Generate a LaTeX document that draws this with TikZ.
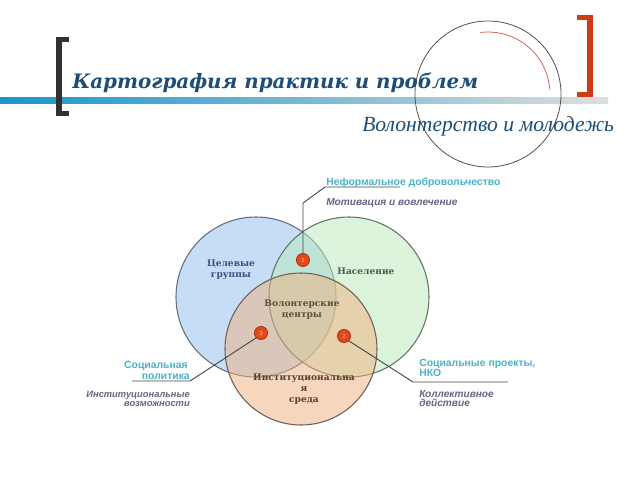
\documentclass[tikz,border=0pt]{standalone}
\usepackage{fontspec}
\setmainfont{DejaVu Serif}
\newfontfamily\subfont{Liberation Serif}
\newfontfamily\lsans{Liberation Sans}
\usetikzlibrary{calc}
\definecolor{titleblue}{RGB}{28,78,120}
\definecolor{barblue}{RGB}{25,150,210}
\definecolor{barmid}{RGB}{120,185,210}
\definecolor{bargray}{RGB}{222,222,222}
\definecolor{brkgray}{RGB}{50,50,50}
\definecolor{brkred}{RGB}{205,60,20}
\definecolor{arcred}{RGB}{210,100,90}
\definecolor{cblue}{RGB}{197,222,245}
\definecolor{cgreen}{RGB}{187,235,187}
\definecolor{corange}{RGB}{239,177,127}
\definecolor{eblue}{RGB}{100,110,125}
\definecolor{egreen}{RGB}{100,115,100}
\definecolor{eorange}{RGB}{115,95,85}
\definecolor{tealtxt}{RGB}{75,178,200}
\definecolor{grayv}{RGB}{100,100,135}
\definecolor{dotred}{RGB}{228,72,30}
\definecolor{dotedge}{RGB}{165,45,15}
\definecolor{dotnum}{RGB}{250,200,170}
\definecolor{lblblue}{RGB}{60,78,122}
\definecolor{lblgreen}{RGB}{75,90,75}
\definecolor{lblmid}{RGB}{95,80,65}
\definecolor{lblor}{RGB}{80,62,50}
\definecolor{callgray}{RGB}{70,70,70}
\tikzset{
  venn/.style={circle,inner sep=0pt,outer sep=0pt,line width=0.8pt},
  vlabel/.style={font=\fontsize{6.8}{8.2}\selectfont\bfseries,align=center,inner sep=0pt},
  reddot/.style={circle,inner sep=0pt,minimum size=9.8pt,fill=dotred,draw=dotedge,line width=0.6pt,
     font=\fontsize{4.5}{5}\selectfont\lsans,text=dotnum},
  callout/.style={draw=callgray,line width=0.7pt},
  tealtext/.style={font=\fontsize{7.8}{8.4}\selectfont\lsans\bfseries,text=tealtxt,inner sep=0pt},
  graytext/.style={font=\fontsize{7.6}{7.8}\selectfont\lsans\bfseries\itshape,text=grayv,inner sep=0pt}
}
\begin{document}
\begin{tikzpicture}[x=0.75pt,y=-0.75pt]
\useasboundingbox (0,0) rectangle (640,480);
\fill[white] (0,0) rectangle (640,480);
% header
\shade[left color=barblue,right color=bargray,middle color=barmid] (0,97) rectangle (608,103);
\fill[brkgray] (56,37) rectangle (62,116);
\fill[brkgray] (56,37) rectangle (69,42);
\fill[brkgray] (56,111) rectangle (69,116);
\fill[brkred] (587,15) rectangle (593,97);
\fill[brkred] (577,15) rectangle (593,20);
\fill[brkred] (577,92) rectangle (593,97);
\node[circle,draw=brkgray!85,line width=0.6pt,minimum size=109.5pt,inner sep=0pt] (ring) at (488,94) {};
\draw[arcred,line width=0.6pt] ($(ring.center)+(-97:62)$) arc[start angle=-97,end angle=-4,radius=62];
\node[anchor=base west,inner sep=0pt,text=titleblue,font=\fontsize{14.9}{18}\selectfont\bfseries\itshape] (title) at (72,88) {Картография практик и проблем};
\node[anchor=base west,inner sep=0pt,text=titleblue,font=\fontsize{16.2}{20}\selectfont\subfont\itshape] (subtitle) at (362,131) {Волонтерство и молодежь};
% venn
\node[venn,minimum size=120pt,fill=cblue,draw=eblue] (cb) at (256,297) {};
\node[venn,minimum size=120pt,fill=cgreen,fill opacity=0.5,draw=egreen,draw opacity=1] (cg) at (349,297) {};
\node[venn,minimum size=114pt,fill=corange,fill opacity=0.5,draw=eorange,draw opacity=1] (co) at (301,349) {};
\node[vlabel,text=lblblue] (lb) at (231,270) {Целевые\\группы};
\node[vlabel,text=lblgreen] (lg) at (366,271) {Население};
\node[vlabel,text=lblmid] (lm) at (302,310) {Волонтерские\\центры};
\node[vlabel,text=lblor] (lo) at (304,389) {Институциональна\\я\\среда};
% dots
\node[reddot] (d1) at (303,260) {1};
\node[reddot] (d3) at (261,333) {3};
\node[reddot] (d2) at (344,336) {2};
% callouts
\coordinate (k1) at (303,203);
\coordinate (k2) at (325,187);
\coordinate (k3) at (400,187);
\draw[callout] (d1.north) -- (k1) -- (k2) -- (k3);
\coordinate (l1) at (190,381);
\coordinate (l2) at (132,381);
\draw[callout] (d3.south west) -- (l1) -- (l2);
\coordinate (r1) at (413,382);
\coordinate (r2) at (508,382);
\draw[callout] (d2.south east) -- (r1) -- (r2);
% callout texts
\node[tealtext,anchor=base west] (t1) at (326,185) {Неформальное добровольчество};
\node[graytext,anchor=base west] (g1) at (326,205) {Мотивация и вовлечение};
\node[tealtext,anchor=base east] (t3a) at (188,368) {Социальная};
\node[tealtext,anchor=base east] (t3b) at (190,379) {политика};
\node[graytext,anchor=base east,font=\fontsize{7}{7.8}\selectfont\lsans\bfseries\itshape] (g3a) at (190,397) {Институциональные};
\node[graytext,anchor=base east,font=\fontsize{7}{7.8}\selectfont\lsans\bfseries\itshape] (g3b) at (190,406) {возможности};
\node[tealtext,anchor=base west] (t2a) at (419,366) {Социальные проекты,};
\node[tealtext,anchor=base west] (t2b) at (419,376) {НКО};
\node[graytext,anchor=base west] (g2a) at (419,397) {Коллективное};
\node[graytext,anchor=base west] (g2b) at (419,406) {действие};
\end{tikzpicture}
\end{document}
